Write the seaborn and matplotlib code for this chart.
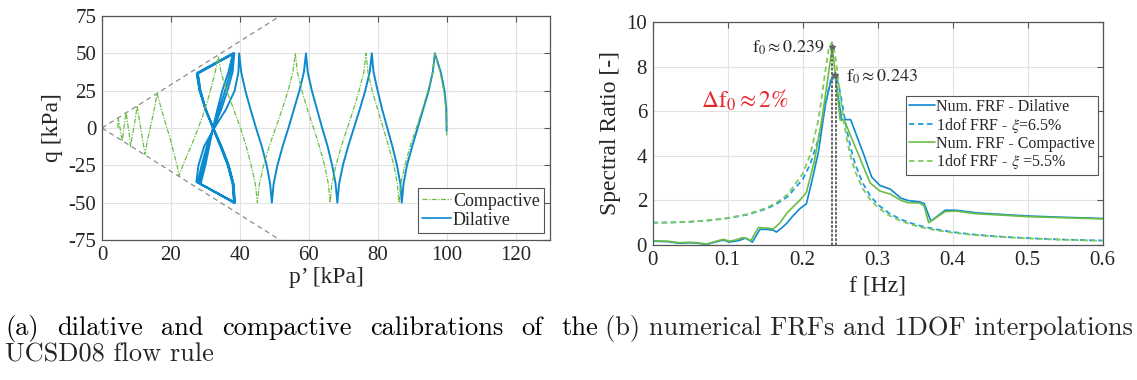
import matplotlib
matplotlib.use("Agg")
import matplotlib.pyplot as plt
import pandas as pd
import seaborn as sns

# ---------------- (a) stress paths (p' [kPa], q [kPa])
dil_path = [
    (100, -2), (100, 0), (99.9, 12.5), (99.4, 25), (98.3, 37.5), (96.6, 50),
    (96.0, 37.5), (94.8, 25), (93.2, 12.5), (91.6, 0), (90.0, -12.5), (88.5, -25), (87.5, -37.5), (87.0, -50),
    (86.6, -37.5), (85.6, -25), (84.3, -12.5), (82.8, 0), (81.3, 12.5), (80.0, 25), (78.8, 37.5), (78.3, 50),
    (77.7, 37.5), (76.4, 25), (74.8, 12.5), (73.1, 0), (71.4, -12.5), (69.9, -25), (68.8, -37.5), (68.3, -50),
    (67.8, -37.5), (66.8, -25), (65.5, -12.5), (63.9, 0), (62.4, 12.5), (60.9, 25), (59.7, 37.5), (59.2, 50),
    (58.6, 37.5), (57.3, 25), (55.7, 12.5), (54.1, 0), (52.4, -12.5), (50.9, -25), (49.8, -37.5), (49.3, -50),
    (48.8, -37.5), (47.8, -25), (46.4, -12.5), (44.7, 0), (43.1, 12.5), (41.6, 25), (40.4, 37.5), (39.8, 50),
    # butterfly loops
    (39.6, 37.5), (38.5, 25), (36.0, 12.5), (32.6, 0), (29.6, -12.5), (28.0, -25), (27.4, -36), (38.6, -50),
    (38.2, -37.5), (36.8, -25), (34.7, -12.5), (32.3, 0), (30.0, 12.5), (28.3, 25), (27.5, 36), (38.4, 50),
    (37.9, 37.5), (36.4, 25), (34.6, 12.5), (32.4, 0), (30.4, -12.5), (28.9, -25), (27.8, -36.5), (38.5, -50),
    (38.1, -37.5), (36.7, -25), (34.6, -12.5), (32.3, 0), (30.1, 12.5), (28.4, 25), (27.6, 36.5), (38.2, 50),
    (37.3, 37.5), (35.7, 25), (34.0, 12.5), (32.3, 0), (30.8, -12.5), (29.5, -25), (28.2, -37), (38.4, -50),
    (38.0, -37.5), (36.6, -25), (34.5, -12.5), (32.2, 0), (30.1, 12.5), (28.5, 25), (27.7, 37), (38.0, 50),
    (36.7, 37.5), (34.9, 25), (33.5, 12.5), (32.2, 0), (31.1, -12.5), (30.0, -25), (28.6, -37.5), (38.3, -50),
    (37.9, -37.5), (36.5, -25), (34.4, -12.5), (32.2, 0), (30.1, 12.5), (28.6, 25), (27.8, 37),
]
comp_path = [
    (100, -5), (100, 0), (99.8, 12.5), (99.2, 25), (98.1, 37.5), (96.6, 50),
    (96.0, 37.5), (94.6, 25), (93.0, 12.5), (91.2, 0), (89.4, -12.5), (87.9, -25), (86.7, -37.5), (86.2, -50),
    (85.7, -37.5), (84.7, -25), (83.2, -12.5), (81.6, 0), (80.0, 12.5), (78.4, 25), (77.2, 37.5), (76.6, 50),
    (76.0, 37.5), (74.6, 25), (73.0, 12.5), (71.2, 0), (69.4, -12.5), (67.9, -25), (66.7, -37.5), (66.2, -50),
    (65.7, -37.5), (64.6, -25), (63.1, -12.5), (61.4, 0), (59.6, 12.5), (58.0, 25), (56.7, 37.5), (56.1, 50),
    (55.4, 37.5), (54.0, 25), (52.3, 12.5), (50.4, 0), (48.5, -12.5), (46.9, -25), (45.7, -37.5), (45.1, -50),
    (44.5, -37.5), (43.3, -25), (41.9, -12.5), (40.2, 0), (38.2, 12.5), (36.2, 25), (34.5, 37.5), (33.8, 48),
    (32.9, 38), (31.8, 28), (30.6, 18), (29.2, 8), (27.6, -2), (25.9, -12), (24.0, -22), (22.3, -32),
    (21.8, -25), (21.0, -18), (19.9, -8), (18.6, 2), (17.3, 12), (16.0, 23.2),
    (15.2, 13), (14.3, 3), (13.3, -7), (12.5, -17.6),
    (11.8, -8), (11.0, 3), (10.2, 14.9),
    (9.6, 5), (8.9, -4), (8.3, -12.3),
    (7.9, -4), (7.4, 4), (7.0, 10.5),
    (6.4, 1), (5.9, -8.7),
    (5.3, -1), (4.7, 6.9), (4.6, -1),
]
failure_p = [0, 51.7]
failure_q = [0, 75]

# ---------------- (b) spectral ratios
num_dil_f = [0, 0.02, 0.035, 0.05, 0.06, 0.072, 0.08, 0.09, 0.095, 0.102, 0.11, 0.116, 0.124, 0.133,
             0.143, 0.152, 0.161, 0.165, 0.172, 0.179, 0.187, 0.196, 0.205, 0.212, 0.221, 0.23, 0.237,
             0.243, 0.252, 0.264, 0.281, 0.292, 0.303, 0.317, 0.331, 0.34, 0.356, 0.362, 0.371, 0.39,
             0.404, 0.432, 0.47, 0.5, 0.55, 0.6]
num_dil_v = [0.17, 0.15, 0.08, 0.10, 0.08, 0.02, 0.10, 0.19, 0.22, 0.13, 0.17, 0.21, 0.31, 0.13,
             0.70, 0.70, 0.66, 0.58, 0.76, 0.98, 1.30, 1.62, 1.85, 2.82, 4.16, 6.24, 7.28,
             7.63, 5.62, 5.62, 4.10, 3.05, 2.67, 2.50, 2.10, 2.00, 1.93, 1.86, 1.07, 1.56,
             1.56, 1.44, 1.36, 1.30, 1.24, 1.19]
num_comp_f = [0, 0.02, 0.035, 0.05, 0.06, 0.072, 0.08, 0.09, 0.095, 0.102, 0.11, 0.12, 0.124, 0.131,
              0.141, 0.152, 0.161, 0.17, 0.179, 0.187, 0.196, 0.205, 0.216, 0.225, 0.232, 0.2395,
              0.25, 0.256, 0.272, 0.29, 0.303, 0.317, 0.331, 0.34, 0.356, 0.362, 0.368, 0.39,
              0.404, 0.432, 0.47, 0.5, 0.55, 0.6]
num_comp_v = [0.19, 0.17, 0.10, 0.12, 0.10, 0.04, 0.12, 0.22, 0.25, 0.17, 0.22, 0.33, 0.30, 0.20,
              0.78, 0.76, 0.72, 1.00, 1.43, 1.70, 2.00, 2.35, 3.82, 5.50, 7.10, 8.90,
              5.61, 5.55, 4.25, 2.78, 2.42, 2.28, 2.00, 1.90, 1.88, 1.75, 1.00, 1.50,
              1.52, 1.40, 1.33, 1.27, 1.22, 1.17]
dof_f = [0, 0.025, 0.05, 0.075, 0.1, 0.125, 0.15, 0.165, 0.18, 0.2, 0.21, 0.22, 0.225, 0.23, 0.235,
         0.239, 0.243, 0.245, 0.25, 0.255, 0.26, 0.265, 0.27, 0.28, 0.29, 0.3, 0.315, 0.33, 0.345,
         0.36, 0.38, 0.4, 0.425, 0.45, 0.475, 0.5, 0.525, 0.55, 0.575, 0.6]
dof_dil_v = [1.00, 1.01, 1.04, 1.10, 1.20, 1.35, 1.60, 1.83, 2.17, 2.94, 3.61, 4.64, 5.36, 6.20, 7.07,
             7.58, 7.69, 7.57, 6.85, 5.89, 4.98, 4.23, 3.63, 2.78, 2.21, 1.82, 1.43, 1.16, 0.97,
             0.83, 0.69, 0.58, 0.48, 0.41, 0.35, 0.31, 0.27, 0.24, 0.22, 0.20]
dof_comp_v = [1.00, 1.01, 1.05, 1.11, 1.21, 1.37, 1.64, 1.89, 2.27, 3.19, 4.04, 5.46, 6.50, 7.75, 8.84,
              9.09, 8.56, 8.08, 6.73, 5.51, 4.56, 3.85, 3.30, 2.54, 2.04, 1.69, 1.33, 1.09, 0.91,
              0.78, 0.65, 0.55, 0.46, 0.39, 0.34, 0.30, 0.26, 0.23, 0.21, 0.19]
f0_lines = [0.238, 0.2395, 0.2425, 0.244]
f0_tops = [8.9, 8.9, 7.63, 7.63]
peak_f = [0.2395, 0.243]
peak_v = [8.9, 7.63]

sns.set_style("whitegrid")
plt.rcParams["font.family"] = ["Liberation Serif", "DejaVu Serif"]
plt.rcParams["mathtext.fontset"] = "stix"
plt.rcParams["axes.unicode_minus"] = False

BLUE = "#0b8ad0"
BLUE_D = "#1c9de2"
GREEN = "#6cbd45"
GREEN_D = "#80c95c"
INK = "#262626"


def matlab_look(ax):
    ax.set_facecolor("white")
    ax.grid(True, color="#e2e2e2", linewidth=0.8)
    ax.set_axisbelow(True)
    for s in ax.spines.values():
        s.set_visible(True)
        s.set_color("#555555")
        s.set_linewidth(0.9)
    ax.tick_params(direction="in", top=True, right=True, length=4, width=0.8,
                   color="#555555", labelcolor=INK, labelsize=15, pad=4)


fig = plt.figure(figsize=(11.37, 3.8), dpi=100)
ax1 = fig.add_axes([0.0897, 0.3684, 0.394, 0.5895])
ax2 = fig.add_axes([0.574, 0.3553, 0.3958, 0.5868])

# ---- panel (a)
dil = pd.DataFrame(dil_path, columns=["p", "q"])
comp = pd.DataFrame(comp_path, columns=["p", "q"])
for sgn in (1, -1):
    ax1.plot(failure_p, [sgn * v for v in failure_q], color="#8c8c8c", lw=0.9,
             linestyle=(0, (4, 3)))
sns.lineplot(data=dil, x="p", y="q", sort=False, estimator=None, color=BLUE, lw=1.4, ax=ax1)
sns.lineplot(data=comp, x="p", y="q", sort=False, estimator=None, color=GREEN, lw=0.9,
             linestyle=(0, (4, 1.2, 1, 1.2)), ax=ax1)
matlab_look(ax1)
ax1.set_xlim(0, 130)
ax1.set_ylim(-75, 75)
ax1.set_xticks(range(0, 121, 20))
ax1.set_yticks(range(-75, 76, 25))
ax1.set_xlabel("p’ [kPa]", fontsize=17, color=INK, labelpad=2)
ax1.set_ylabel("q [kPa]", fontsize=17, color=INK, labelpad=4)
h_comp = plt.Line2D([], [], color=GREEN, lw=0.9, linestyle=(0, (4, 1.2, 1, 1.2)))
h_dil = plt.Line2D([], [], color=BLUE, lw=1.2)
leg = ax1.legend([h_comp, h_dil], ["Compactive", "Dilative"], loc="lower right",
                 bbox_to_anchor=(0.987, 0.031), fontsize=13, frameon=True, fancybox=False,
                 framealpha=1, edgecolor="#555555", handlelength=1.6, handletextpad=0.1,
                 borderpad=0.25, labelspacing=0.1, borderaxespad=0)
leg.get_frame().set_linewidth(0.8)

# ---- panel (b)
sns.lineplot(x=num_dil_f, y=num_dil_v, color=BLUE, lw=1.2, ax=ax2, label="Num. FRF - Dilative")
sns.lineplot(x=dof_f, y=dof_dil_v, color=BLUE_D, lw=1.3, linestyle=(0, (3, 2)), ax=ax2,
             label=r"1dof FRF - $\xi$=6.5%")
sns.lineplot(x=num_comp_f, y=num_comp_v, color=GREEN, lw=1.2, ax=ax2,
             label="Num. FRF - Compactive")
sns.lineplot(x=dof_f, y=dof_comp_v, color=GREEN_D, lw=1.3, linestyle=(0, (3, 2)), ax=ax2,
             label=r"1dof FRF - $\xi$ =5.5%")
ax2.vlines(f0_lines, 0, f0_tops, colors="#666666", linewidth=0.7, linestyles=(0, (3, 1.5)))
ax2.plot(peak_f, peak_v, linestyle="none", marker="*", markersize=4, color="#666666")
matlab_look(ax2)
ax2.set_xlim(0, 0.6)
ax2.set_ylim(0, 10)
ax2.set_xticks([0, 0.1, 0.2, 0.3, 0.4, 0.5, 0.6])
ax2.set_xticklabels(["0", "0.1", "0.2", "0.3", "0.4", "0.5", "0.6"])
ax2.set_yticks(range(0, 11, 2))
ax2.set_xlabel("f [Hz]", fontsize=17, color=INK, labelpad=4)
ax2.set_ylabel("Spectral Ratio [-]", fontsize=17, color=INK, labelpad=4)
ax2.text(0.229, 8.85, r"$\mathrm{f}_0\approx0.239$", ha="right", va="center", fontsize=13, color=INK)
ax2.text(0.258, 7.55, r"$\mathrm{f}_0\approx 0.243$", ha="left", va="center", fontsize=13, color=INK)
ax2.text(0.065, 6.5, r"$\Delta\mathrm{f}_0\approx2\%$", ha="left", va="center", fontsize=17,
         color="#e8262b")
leg2 = ax2.legend(loc="upper right", bbox_to_anchor=(0.99, 0.669), fontsize=11.5, frameon=True,
                  fancybox=False, framealpha=1, edgecolor="#555555", handlelength=1.6,
                  handletextpad=0.1, borderpad=0.2, labelspacing=0.05, borderaxespad=0)
leg2.get_frame().set_linewidth(0.8)


# ---- captions
def justified(words, x0, x1, y, size):
    texts = [fig.text(0, y, w, fontsize=size, family="cmr10", color="black") for w in words]
    fig.canvas.draw()
    r = fig.canvas.get_renderer()
    widths = [t.get_window_extent(r).width for t in texts]
    gap = ((x1 - x0) - sum(widths)) / (len(words) - 1)
    x = x0
    for t, w in zip(texts, widths):
        t.set_x(x / fig.bbox.width)
        x += w + gap


justified(["(a)", "dilative", "and", "compactive", "calibrations", "of", "the"], 5, 598, 0.118, 19)
fig.text(5 / 1137, 0.05, "UCSD08 flow rule", fontsize=19, family="cmr10")
fig.text(605 / 1137, 0.118, "(b) numerical FRFs and 1DOF interpolations", fontsize=19, family="cmr10")

fig.savefig("out.png", dpi=100)
